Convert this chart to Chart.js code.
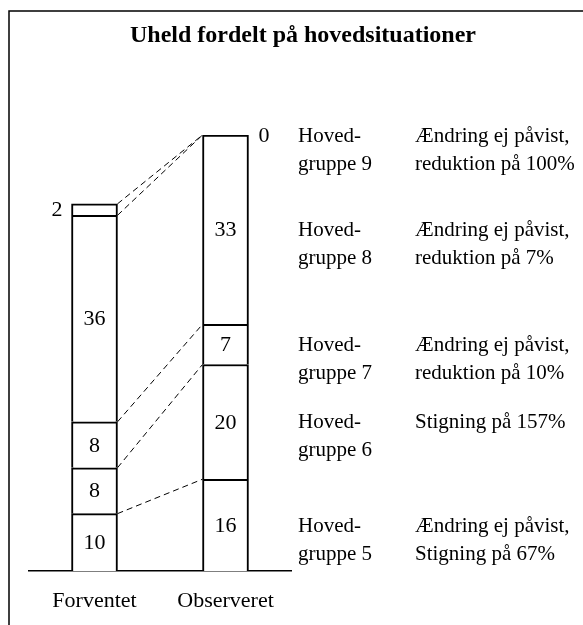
<!DOCTYPE html>
<html>
<head>
<meta charset="utf-8">
<script src="https://cdn.jsdelivr.net/npm/chart.js@4.4.1/dist/chart.umd.min.js"></script>
<style>
  html, body { margin: 0; padding: 0; background: #fff; }
  #wrap { width: 583px; height: 625px; position: relative; }
</style>
</head>
<body>
<div id="wrap"><canvas id="c" width="583" height="625"></canvas></div>
<script>
// ---- Data ----
const title = 'Uheld fordelt på hovedsituationer';
const categories = ['Forventet', 'Observeret'];
const groupNumbers = [5, 6, 7, 8, 9];
const forventet = [10, 8, 8, 36, 2];
const observeret = [16, 20, 7, 33, 0];
const groupLabels = [
  ['Hoved-', 'gruppe 5'],
  ['Hoved-', 'gruppe 6'],
  ['Hoved-', 'gruppe 7'],
  ['Hoved-', 'gruppe 8'],
  ['Hoved-', 'gruppe 9']
];
const descriptions = [
  ['Ændring ej påvist,', 'Stigning på 67%'],
  ['Stigning på 157%'],
  ['Ændring ej påvist,', 'reduktion på 10%'],
  ['Ændring ej påvist,', 'reduktion på 7%'],
  ['Ændring ej påvist,', 'reduktion på 100%']
];

const FONT = "'Liberation Serif', 'Times New Roman', serif";
const FS = 22;
const FS_NOTE = 21;

const datasets = groupNumbers.map((g, i) => ({
  label: 'Hovedgruppe ' + g,
  data: [forventet[i], observeret[i]],
  backgroundColor: '#ffffff',
  borderColor: '#000000',
  borderWidth: 2,
  borderSkipped: 'bottom',
  barThickness: 46,
  stack: 's'
}));

const overlay = {
  id: 'overlay',
  beforeDraw(chart) {
    const ctx = chart.ctx;
    ctx.save();
    ctx.strokeStyle = '#000';
    ctx.lineWidth = 1.5;
    ctx.beginPath();
    ctx.moveTo(9, 625);
    ctx.lineTo(9, 11);
    ctx.lineTo(583, 11);
    ctx.stroke();
    // title
    ctx.fillStyle = '#000';
    ctx.font = 'bold 24px ' + FONT;
    ctx.textAlign = 'center';
    ctx.textBaseline = 'alphabetic';
    ctx.fillText(title, 303, 42);
    ctx.restore();
  },
  afterDatasetsDraw(chart) {
    const ctx = chart.ctx;
    const y = chart.scales.y;
    const n = groupNumbers.length;
    ctx.save();
    ctx.fillStyle = '#000';
    ctx.textBaseline = 'middle';

    // dashed connector lines between cumulative boundaries
    const m0 = chart.getDatasetMeta(0).data;
    const fRight = m0[0].x + m0[0].width / 2;
    const oLeft = m0[1].x - m0[1].width / 2;
    ctx.strokeStyle = '#000';
    ctx.lineWidth = 1;
    ctx.setLineDash([6, 4]);
    let cf = 0, co = 0;
    for (let i = 0; i < n; i++) {
      cf += forventet[i];
      co += observeret[i];
      ctx.beginPath();
      ctx.moveTo(fRight, y.getPixelForValue(cf));
      ctx.lineTo(oLeft, y.getPixelForValue(co));
      ctx.stroke();
    }
    ctx.setLineDash([]);

    // value labels
    cf = 0; co = 0;
    for (let i = 0; i < n; i++) {
      const meta = chart.getDatasetMeta(i).data;
      const vals = [forventet[i], observeret[i]];
      const starts = [cf, co];
      ctx.font = FS + 'px ' + FONT;
      for (let j = 0; j < 2; j++) {
        const bar = meta[j];
        const v = vals[j];
        const mid = y.getPixelForValue(starts[j] + v / 2);
        if (i === n - 1) {
          if (j === 0) {
            ctx.textAlign = 'right';
            ctx.fillText(String(v), bar.x - bar.width / 2 - 9, mid + 1);
          } else {
            ctx.textAlign = 'left';
            ctx.fillText(String(v), bar.x + bar.width / 2 + 10, mid + 1);
          }
        } else {
          ctx.textAlign = 'center';
          ctx.fillText(String(v), bar.x, mid + 1);
        }
      }
      const oy = y.getPixelForValue(co + observeret[i] / 2) + 1;
      ctx.font = FS_NOTE + 'px ' + FONT;
      ctx.textAlign = 'left';
      groupLabels[i].forEach((t, k) => ctx.fillText(t, 298, oy + k * 28));
      descriptions[i].forEach((t, k) => ctx.fillText(t, 415, oy + k * 28));
      cf += forventet[i];
      co += observeret[i];
    }
    ctx.restore();
  }
};

Chart.defaults.font.family = FONT;
Chart.defaults.color = '#000';

new Chart(document.getElementById('c'), {
  type: 'bar',
  data: { labels: categories, datasets },
  options: {
    responsive: false,
    animation: false,
    layout: { padding: { left: 29, right: 292, top: 135, bottom: 0 } },
    plugins: {
      legend: { display: false },
      tooltip: { enabled: false },
      title: { display: false }
    },
    scales: {
      x: {
        stacked: true,
        offset: true,
        grid: { display: false, drawTicks: false },
        border: { display: true, color: '#000', width: 1.5 },
        ticks: { color: '#000', font: { family: FONT, size: FS }, padding: 17, maxRotation: 0 },
        afterFit: (s) => { s.height = 54; }
      },
      y: {
        stacked: true,
        display: false,
        min: 0,
        max: 76
      }
    }
  },
  plugins: [overlay]
});
</script>
</body>
</html>
